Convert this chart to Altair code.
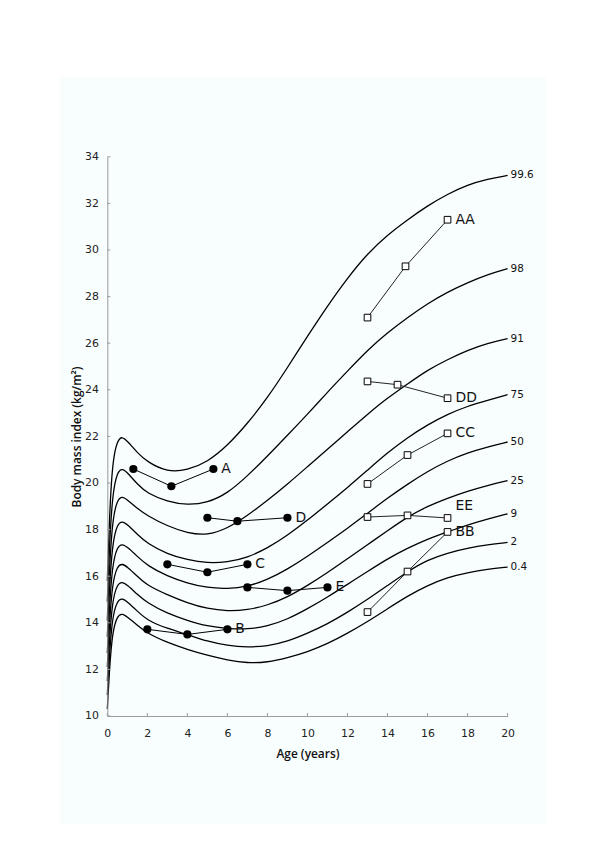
import altair as alt
import pandas as pd

# ---------------- data ----------------
ages = [0, 0.1, 0.25, 0.5, 0.75, 1, 1.5, 2, 3, 4, 5, 6, 7, 8, 9, 10,
        11, 12, 13, 14, 15, 16, 17, 18, 19, 20]

centile_names = ["99.6", "98", "91", "75", "50", "25", "9", "2", "0.4"]
c996 = [15.8, 18.4, 20.9, 21.85, 22.0, 21.8, 21.3, 20.9, 20.47, 20.55, 20.9, 21.6, 22.55, 23.65,
        24.95, 26.3, 27.6, 28.8, 29.85, 30.65, 31.3, 31.9, 32.4, 32.8, 33.05, 33.2]
c98 = [14.9, 17.2, 19.5, 20.5, 20.62, 20.45, 19.95, 19.55, 19.2, 19.05, 19.15, 19.55, 20.3, 21.15,
       22.05, 22.95, 23.9, 24.8, 25.7, 26.45, 27.1, 27.7, 28.2, 28.6, 28.95, 29.2]
c91 = [14.1, 16.2, 18.4, 19.3, 19.43, 19.28, 18.9, 18.6, 18.15, 17.85, 17.75, 18.05, 18.6, 19.25,
       19.95, 20.7, 21.45, 22.2, 22.95, 23.65, 24.25, 24.85, 25.3, 25.7, 26.0, 26.2]
c75 = [13.4, 15.4, 17.4, 18.25, 18.37, 18.22, 17.8, 17.4, 16.95, 16.7, 16.56, 16.6, 16.8, 17.2,
       17.75, 18.4, 19.1, 19.8, 20.55, 21.3, 21.95, 22.5, 22.95, 23.3, 23.55, 23.79]
c50 = [12.7, 14.6, 16.5, 17.28, 17.39, 17.25, 16.85, 16.45, 16.0, 15.7, 15.5, 15.46, 15.55, 15.85,
       16.3, 16.85, 17.45, 18.05, 18.7, 19.35, 19.95, 20.5, 20.95, 21.3, 21.55, 21.76]
c25 = [12.1, 13.9, 15.7, 16.45, 16.54, 16.4, 16.0, 15.6, 15.2, 14.85, 14.6, 14.5, 14.55, 14.75,
       15.1, 15.6, 16.15, 16.75, 17.35, 17.95, 18.55, 19.0, 19.35, 19.65, 19.9, 20.1]
c9 = [11.5, 13.2, 14.95, 15.68, 15.76, 15.62, 15.22, 14.85, 14.4, 14.1, 13.85, 13.75, 13.72, 13.85,
      14.15, 14.6, 15.1, 15.65, 16.2, 16.75, 17.2, 17.6, 17.9, 18.2, 18.45, 18.68]
c2 = [10.9, 12.55, 14.25, 14.97, 15.05, 14.9, 14.5, 14.1, 13.75, 13.5, 13.2, 13.02, 12.95, 13.0,
      13.2, 13.55, 13.95, 14.45, 15.0, 15.6, 16.2, 16.7, 17.0, 17.2, 17.35, 17.45]
c04 = [10.3, 11.9, 13.6, 14.32, 14.4, 14.25, 13.9, 13.55, 13.15, 12.85, 12.6, 12.4, 12.27, 12.3,
       12.5, 12.75, 13.1, 13.55, 14.05, 14.6, 15.15, 15.6, 15.95, 16.15, 16.3, 16.39]
centile_values = [c996, c98, c91, c75, c50, c25, c9, c2, c04]

# children (filled circles)
child_ids = ["A", "B", "C", "D", "E"]
child_ages = [[1.3, 3.2, 5.3], [2, 4, 6], [3, 5, 7], [5, 6.5, 9], [7, 9, 11]]
child_bmi = [[20.6, 19.86, 20.6], [13.72, 13.5, 13.72], [16.51, 16.17, 16.51],
             [18.51, 18.36, 18.51], [15.52, 15.38, 15.52]]

# adolescents (open squares)
teen_ids = ["AA", "BB", "CC", "DD", "EE"]
teen_ages = [[13, 14.9, 17], [13, 15, 17], [13, 15, 17], [13, 14.5, 17], [13, 15, 17]]
teen_bmi = [[27.1, 29.3, 31.3], [14.46, 16.2, 17.9], [19.96, 21.2, 22.13],
            [24.36, 24.22, 23.64], [18.54, 18.61, 18.5]]

x_ticks = [0, 2, 4, 6, 8, 10, 12, 14, 16, 18, 20]
y_ticks = [10, 12, 14, 16, 18, 20, 22, 24, 26, 28, 30, 32, 34]

# ---------------- tables ----------------
curve_rows = []
for name, vals in zip(centile_names, centile_values):
    for a, v in zip(ages, vals):
        curve_rows.append({"centile": name, "age": a, "bmi": v})
curves = pd.DataFrame(curve_rows)
curve_ends = pd.DataFrame({"centile": centile_names,
                           "age": [ages[-1]] * len(centile_names),
                           "bmi": [v[-1] for v in centile_values]})

def make_df(ids, ag, bm):
    rows = []
    for i, a_list, b_list in zip(ids, ag, bm):
        for k, (a, b) in enumerate(zip(a_list, b_list)):
            rows.append({"pid": i, "age": a, "bmi": b, "k": k})
    return pd.DataFrame(rows)

child = make_df(child_ids, child_ages, child_bmi)
teen = make_df(teen_ids, teen_ages, teen_bmi)
child_last = child[child["k"] == 2]
teen_last = teen[teen["k"] == 2]
teen_last_main = teen_last[teen_last["pid"] != "EE"]
teen_last_ee = teen_last[teen_last["pid"] == "EE"]

W, H = 403, 563
FONT = "DejaVu Sans"
TFONT = "Open Sans"
AX = "#9a9a9a"

xs = alt.Scale(domain=[0, 20], nice=False, zero=False)
ys = alt.Scale(domain=[10, 34], nice=False, zero=False)

X = alt.X("age:Q", scale=xs, axis=alt.Axis(
    values=x_ticks, title="Age (years)", ticks=False, tickSize=0, grid=False, zindex=2,
    labelFlush=False, labelOverlap=False,
    domainColor=AX, labelFont=FONT, labelFontSize=11, labelColor="#222", labelPadding=12,
    titleFont=TFONT, titleFontSize=12, titleFontWeight=600, titleColor="#111",
    titleX=W / 2, titleY=38, titleBaseline="middle"))
Y = alt.Y("bmi:Q", scale=ys, axis=alt.Axis(
    values=y_ticks, title="Body mass index (kg/m²)", ticks=False, tickSize=0, grid=False, zindex=2,
    labelFlush=False, labelOverlap=False,
    domainColor=AX, labelFont=FONT, labelFontSize=11, labelColor="#222", labelPadding=9,
    titleFont=TFONT, titleFontSize=12, titleFontWeight=600, titleColor="#111",
    titleX=-31, titleY=H / 2, titleBaseline="middle", titleAngle=270))

bg = alt.Chart(pd.DataFrame({"d": [0]})).mark_rect(color="#f8fdfd").encode(
    x=alt.value(-48), x2=alt.value(442), y=alt.value(-80), y2=alt.value(672))

curve_lines = alt.Chart(curves).mark_line(
    interpolate="basis", color="black", strokeWidth=1.3).encode(
    x=X, y=Y, detail="centile:N")

curve_labels = alt.Chart(curve_ends).mark_text(
    align="left", baseline="middle", dx=3, font=FONT, fontSize=10.5, color="#111").encode(
    x=alt.X("age:Q", scale=xs), y=alt.Y("bmi:Q", scale=ys), text="centile:N")

xtick = alt.Chart(pd.DataFrame({"t": x_ticks})).mark_rule(color=AX).encode(
    x=alt.X("t:Q", scale=xs), y=alt.value(H), y2=alt.value(H - 3))
ytick = alt.Chart(pd.DataFrame({"t": y_ticks})).mark_rule(color=AX).encode(
    y=alt.Y("t:Q", scale=ys), x=alt.value(0), x2=alt.value(3))

child_lines = alt.Chart(child).mark_line(color="black", strokeWidth=1).encode(
    x=alt.X("age:Q", scale=xs), y=alt.Y("bmi:Q", scale=ys), detail="pid:N", order="k:Q")
child_pts = alt.Chart(child).mark_point(
    shape="circle", filled=True, color="black", size=68, opacity=1).encode(
    x=alt.X("age:Q", scale=xs), y=alt.Y("bmi:Q", scale=ys))
child_txt = alt.Chart(child_last).mark_text(
    align="left", baseline="middle", dx=8, font=FONT, fontSize=14, color="#111").encode(
    x=alt.X("age:Q", scale=xs), y=alt.Y("bmi:Q", scale=ys), text="pid:N")

teen_lines = alt.Chart(teen).mark_line(color="#222", strokeWidth=1).encode(
    x=alt.X("age:Q", scale=xs), y=alt.Y("bmi:Q", scale=ys), detail="pid:N", order="k:Q")
teen_pts = alt.Chart(teen).mark_point(
    shape="square", filled=True, fill="white", stroke="black", strokeWidth=1,
    size=45, opacity=1).encode(
    x=alt.X("age:Q", scale=xs), y=alt.Y("bmi:Q", scale=ys))
teen_txt = alt.Chart(teen_last_main).mark_text(
    align="left", baseline="middle", dx=8, font=FONT, fontSize=14, color="#111").encode(
    x=alt.X("age:Q", scale=xs), y=alt.Y("bmi:Q", scale=ys), text="pid:N")
teen_txt_ee = alt.Chart(teen_last_ee).mark_text(
    align="left", baseline="middle", dx=8, dy=-12, font=FONT, fontSize=14, color="#111").encode(
    x=alt.X("age:Q", scale=xs), y=alt.Y("bmi:Q", scale=ys), text="pid:N")

chart = alt.layer(
    bg, curve_lines, curve_labels, xtick, ytick,
    child_lines, child_pts, child_txt,
    teen_lines, teen_pts, teen_txt, teen_txt_ee
).properties(
    width=W, height=H, autosize="none",
    padding={"left": 100, "top": 147, "right": 85, "bottom": 120},
    background="white"
).configure_view(stroke=None)

chart.save("out.html", embed_options={"renderer": "svg", "actions": False})
